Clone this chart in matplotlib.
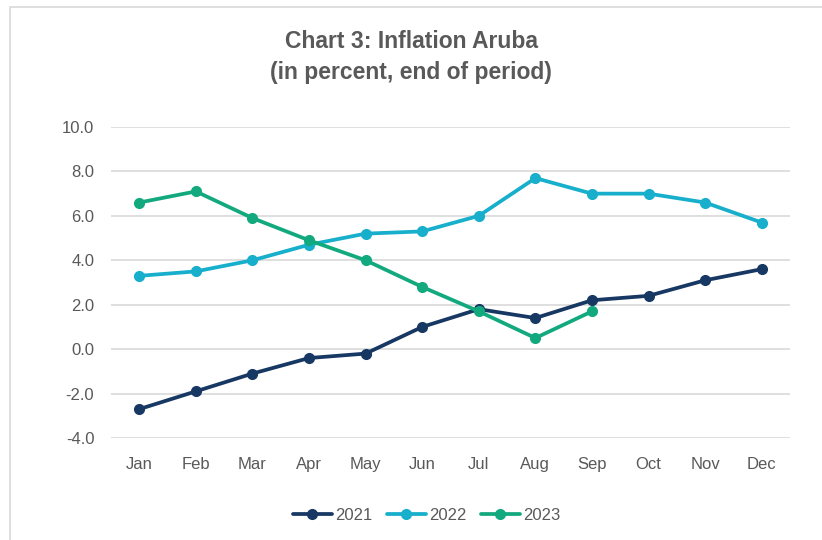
import matplotlib
matplotlib.use("Agg")
import matplotlib.pyplot as plt
from matplotlib.patches import Rectangle

# Chart data
months = ["Jan", "Feb", "Mar", "Apr", "May", "Jun",
          "Jul", "Aug", "Sep", "Oct", "Nov", "Dec"]
infl_2021 = [-2.7, -1.9, -1.1, -0.4, -0.2, 1.0, 1.8, 1.4, 2.2, 2.4, 3.1, 3.6]
infl_2022 = [3.3, 3.5, 4.0, 4.7, 5.2, 5.3, 6.0, 7.7, 7.0, 7.0, 6.6, 5.7]
infl_2023 = [6.6, 7.1, 5.9, 4.9, 4.0, 2.8, 1.7, 0.5, 1.7]
y_ticks = [-4.0, -2.0, 0.0, 2.0, 4.0, 6.0, 8.0, 10.0]

series = [("2021", infl_2021, "#183864"),
          ("2022", infl_2022, "#17AFCB"),
          ("2023", infl_2023, "#13A97E")]

plt.rcParams['font.family'] = ['Liberation Sans', 'DejaVu Sans']
text_grey = "#595959"

fig = plt.figure(figsize=(8.22, 5.40), dpi=100)
# light frame around the chart like the source
fig.patches.append(Rectangle((10 / 822, -0.01), 1.0, 1 - 7 / 540 + 0.01,
                             transform=fig.transFigure, fill=False,
                             edgecolor="#D9D9D9", linewidth=1.2))

ax = fig.add_axes([111 / 822, 1 - 438 / 540, (790 - 111) / 822, (438 - 127) / 540])

x = list(range(len(months)))
for name, vals, col in series:
    ax.plot(x[:len(vals)], vals, color=col, linewidth=2.7, marker="o",
            markersize=7, label=name, solid_capstyle="round")

ax.set_xlim(-0.5, 11.5)
ax.set_ylim(-4, 10)
ax.set_yticks(y_ticks)
ax.set_yticklabels([f"{v:.1f}" for v in y_ticks])
ax.set_xticks(x)
ax.set_xticklabels(months)
ax.grid(axis="y", color="#D9D9D9", linewidth=1.2)
ax.set_axisbelow(True)
for s in ax.spines.values():
    s.set_visible(False)
ax.tick_params(length=0, labelsize=12, colors=text_grey, pad=14)
ax.tick_params(axis="y", pad=12)

fig.text(0.5, 1 - 57 / 540, "Chart 3: Inflation Aruba\n(in percent, end of period)",
         ha="center", va="center", fontsize=16.5, fontweight="bold",
         color=text_grey, linespacing=1.5)

ax.legend(loc="center", bbox_to_anchor=(0.465, -0.25), ncol=3, frameon=False,
          fontsize=12, labelcolor=text_grey, handlelength=2.3,
          columnspacing=0.9, handletextpad=0.2)

fig.savefig("out.png", dpi=100)
